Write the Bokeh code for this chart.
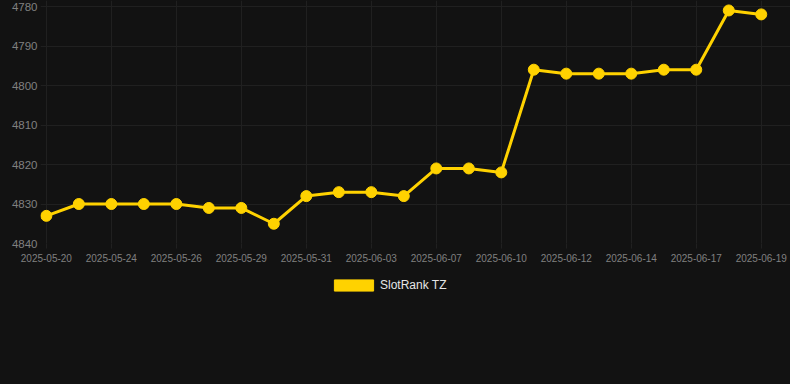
from bokeh.plotting import figure
from bokeh.models import Range1d, FixedTicker, Legend, LegendItem, ColumnDataSource
from bokeh.layouts import column
from bokeh.embed import file_html
from bokeh.resources import INLINE

dates = ["2025-05-20", "2025-05-22", "2025-05-24", "2025-05-25", "2025-05-26",
         "2025-05-28", "2025-05-29", "2025-05-30", "2025-05-31", "2025-06-02",
         "2025-06-03", "2025-06-05", "2025-06-07", "2025-06-08", "2025-06-10",
         "2025-06-11", "2025-06-12", "2025-06-13", "2025-06-14", "2025-06-16",
         "2025-06-17", "2025-06-18", "2025-06-19"]
ranks = [4833, 4830, 4830, 4830, 4830, 4831, 4831, 4835, 4828, 4827, 4827, 4828,
         4821, 4821, 4822, 4796, 4797, 4797, 4797, 4796, 4796, 4781, 4782]
series_name = "SlotRank TZ"
y_ticks = [4780, 4790, 4800, 4810, 4820, 4830, 4840]

BG = "#121212"
GRID = "#202020"
YELLOW = "#FFD200"

idx = list(range(len(dates)))
src = ColumnDataSource(dict(x=idx, y=ranks, d=dates))

p = figure(width=790, height=270, output_backend="svg", toolbar_location=None,
           x_range=Range1d(-0.18, 22.9), y_range=Range1d(4840, 4778.48),
           min_border_left=40, min_border_right=0, min_border_top=0,
           min_border_bottom=27)
p.background_fill_color = None
p.border_fill_color = None
p.outline_line_color = None
p.styles = {"background-color": BG}

p.line("x", "y", source=src, line_color=YELLOW, line_width=3)
p.scatter("x", "y", source=src, size=11, fill_color=YELLOW, line_color=YELLOW)

tick_idx = [i for i in idx if i % 2 == 0]
p.xaxis.ticker = FixedTicker(ticks=tick_idx)
p.xaxis.major_label_overrides = {i: dates[i] for i in tick_idx}
p.yaxis.ticker = FixedTicker(ticks=y_ticks)

for ax in (p.xaxis[0], p.yaxis[0]):
    ax.axis_line_color = None
    ax.minor_tick_line_color = None
    ax.major_label_text_font = "Liberation Sans"
    ax.major_label_text_color = "#808080"

p.xaxis.major_tick_line_color = GRID
p.xaxis.major_tick_out = 5
p.xaxis.major_tick_in = 0
p.xaxis.major_label_standoff = 5
p.xaxis.major_label_text_font_size = "10px"

p.yaxis.major_tick_line_color = None
p.yaxis.major_tick_out = 0
p.yaxis.major_tick_in = 0
p.yaxis.major_label_standoff = 3
p.yaxis.major_label_text_font_size = "11.5px"

p.xgrid.grid_line_color = GRID
p.ygrid.grid_line_color = GRID

# legend strip below the chart
leg = figure(width=790, height=114, output_backend="svg", toolbar_location=None,
             x_range=Range1d(0, 1), y_range=Range1d(0, 1),
             x_axis_location=None, y_axis_location=None,
             min_border_left=0, min_border_right=0, min_border_top=0,
             min_border_bottom=0)
leg.background_fill_color = None
leg.border_fill_color = None
leg.outline_line_color = None
leg.styles = {"background-color": BG}
leg.grid.visible = False
proxy = leg.rect(x=[0.5], y=[0.5], width=0.1, height=0.1, fill_color=YELLOW,
                 line_color=YELLOW, visible=False)
legend = Legend(items=[LegendItem(label=series_name, renderers=[proxy])],
                location=(289, 92), orientation="horizontal",
                background_fill_alpha=0, border_line_color=None,
                padding=0, margin=0, glyph_width=49, glyph_height=14,
                label_standoff=2, label_text_font="Liberation Sans",
                label_text_font_size="12px", label_text_color="#e6e6e6",
                label_height=14)
leg.add_layout(legend, "center")

layout = column(p, leg, spacing=0)
html = file_html(layout, INLINE)
html = html.replace("<body>", '<body style="margin:0;background:#121212">', 1)
open("out.html", "w").write(html)
